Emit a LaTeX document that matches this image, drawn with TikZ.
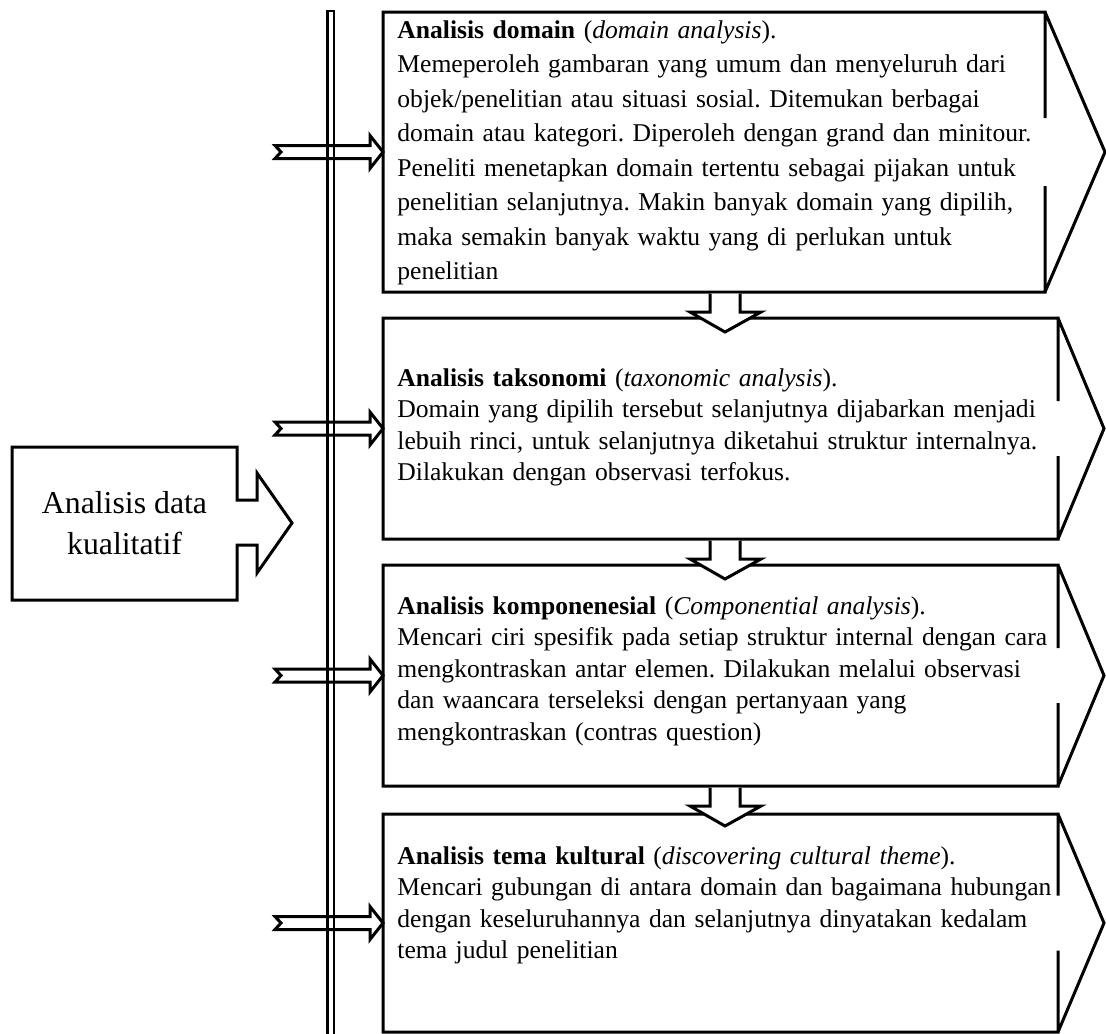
\documentclass[tikz,border=0pt]{standalone}
\usepackage{fontspec}
\setmainfont{Liberation Serif}
\frenchspacing

\begin{document}
\begin{tikzpicture}[
    x=0.5pt, y=-0.5pt,
    frame/.style={line width=1.5pt, line join=miter},
    area/.style={inner sep=0pt, outer sep=0pt},
    body/.style={anchor=base west, inner sep=0pt, text width=340pt, align=left,
        font=\fontsize{12.8}{15.75}\selectfont},
    harrow/.style={line width=1.5pt, line join=miter},
    varrow/.style={line width=1.5pt, line join=miter, fill=white},
    rail/.style={double, double distance=2pt, line width=1.25pt, line cap=rect}
]
\useasboundingbox (0,0) rectangle (1106,1033);

% Stages
\node[area, minimum width=331pt, minimum height=140pt] (b1) at (714,152) {};
\node[area, minimum width=337.5pt, minimum height=110.5pt] (b2) at (720.5,428.5) {};
\node[area, minimum width=337.5pt, minimum height=110.5pt] (b3) at (720.5,675.5) {};
\node[area, minimum width=337.5pt, minimum height=109pt] (b4) at (720.5,923) {};

\foreach \b/\h/\g in {b1/30pt/17pt, b2/23pt/13.75pt, b3/23pt/13.75pt, b4/23pt/13.75pt}
  \draw[frame] ([yshift=\g]\b.east) -- (\b.north east) -- (\b.north west)
      -- (\b.south west) -- (\b.south east) -- ([yshift=-\g]\b.east)
      (\b.north east) -- ([xshift=\h]\b.east) -- (\b.south east);

% Texts
\node[body, font=\fontsize{12.8}{17.25}\selectfont] (t1) at (397,38) {%
\textbf{Analisis domain} (\textit{domain analysis}).\\
Memeperoleh gambaran yang umum dan menyeluruh dari\\
objek/penelitian atau situasi sosial. Ditemukan berbagai\\
domain atau kategori. Diperoleh dengan grand dan minitour.\\
Peneliti menetapkan domain tertentu sebagai pijakan untuk\\
penelitian selanjutnya. Makin banyak domain yang dipilih,\\
maka semakin banyak waktu yang di perlukan untuk\\
penelitian};
\node[body] (t2) at (397,386) {%
\textbf{Analisis taksonomi} (\textit{taxonomic analysis}).\\
Domain yang dipilih tersebut selanjutnya dijabarkan menjadi\\
lebuih rinci, untuk selanjutnya diketahui struktur internalnya.\\
Dilakukan dengan observasi terfokus.};
\node[body] (t3) at (397,614) {%
\textbf{Analisis komponenesial} (\textit{Componential analysis}).\\
Mencari ciri spesifik pada setiap struktur internal dengan cara\\
mengkontraskan antar elemen. Dilakukan melalui observasi\\
dan waancara terseleksi dengan pertanyaan yang\\
mengkontraskan (contras question)};
\node[body] (t4) at (397,864) {%
\textbf{Analisis tema kultural} (\textit{discovering cultural theme}).\\
Mencari gubungan di antara domain dan bagaimana hubungan\\
dengan keseluruhannya dan selanjutnya dinyatakan kedalam\\
tema judul penelitian};

% Source
\node[area, minimum width=112.5pt, minimum height=76.5pt, align=center,
      font=\fontsize{15.9}{20.5}\selectfont] (src) at (124.5,523.5) {Analisis data\\kualitatif};
\draw[frame] (src.north east) -- ++(0,53) -- ++(20,0) -- ++(0,-27) -- ++(35,50)
    -- ++(-35,50) -- ++(0,-28) -- ++(-20,0) -- (src.south east) -- (src.south west)
    -- (src.north west) -- cycle;

% Rail
\coordinate (railtop) at (330.5,14);
\coordinate (railbot) at (330.5,1045);
\draw[rail] (railtop) -- (railbot);

% Arrows into the stages
\foreach \b in {b1,b2,b3,b4}
  \draw[harrow] (\b.west) ++(-108,6.5) -- ++(95,0) -- ++(0,10) -- ++(13,-16.5)
      -- ++(-13,-16.5) -- ++(0,10) -- ++(-95,0) -- ++(6,6.5) -- cycle;

% Arrows between the stages
\foreach \u/\v in {b1/b2, b2/b3, b3/b4}
  \draw[varrow] (\u.south -| \v.north) ++(-10.5,1.5) -- ++(0,18.5) -- ++(-20,0)
      -- ++(35,20) -- ++(36,-20) -- ++(-21,0) -- ++(0,-18.5);

\end{tikzpicture}
\end{document}
